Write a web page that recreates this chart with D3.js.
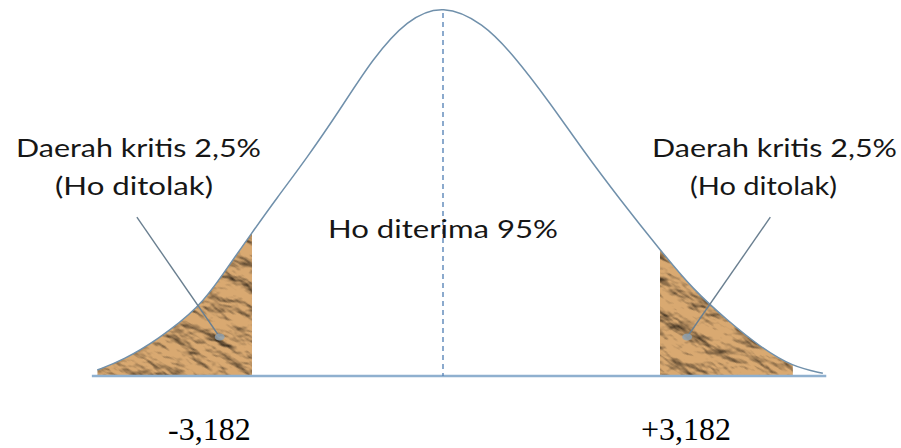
<!DOCTYPE html>
<html>
<head>
<meta charset="utf-8">
<script src="https://cdn.jsdelivr.net/npm/d3@7"></script>
<style>
  html, body { margin: 0; padding: 0; background: #ffffff; }
  svg { display: block; }
</style>
</head>
<body>
<svg id="svg_chart" width="901" height="448"></svg>
<script>
// curve: t value and density height
const curve_t = [-5.76, -5.33, -4.76, -4.05, -3.67, -3.182, -2.77, -2.27, -1.72, -1.17, -0.60, 0,
  0.59, 1.03, 1.57, 2.05, 2.60, 3.182, 3.67, 4.16, 4.65, 5.13, 5.57];
const curve_density = [0.0066, 0.0176, 0.0397, 0.076, 0.112, 0.158, 0.196, 0.240, 0.293, 0.350, 0.393, 0.410,
  0.389, 0.354, 0.301, 0.249, 0.194, 0.139, 0.095, 0.062, 0.032, 0.010, 0.003];

const critical_values = [-3.182, 3.182];
const critical_labels = ['-3,182', '+3,182'];
const tail_ends = [-5.76, 5.13];
const axis_extent = [-5.85, 5.62];

// leader lines: [t, density] start -> end
const leader_from = [[-5.10, 0.175], [4.80, 0.175]];
const leader_to = [[-3.72, 0.043], [3.58, 0.043]];

const region_title = 'Daerah kritis 2,5%';
const region_note = '(Ho ditolak)';
const accept_label = 'Ho diterima 95%';

const svg_chart = d3.select('svg#svg_chart');

// the sketch is not quite symmetric, so the x scale is piecewise
const x = d3.scaleLinear()
  .domain([critical_values[0], 0, critical_values[1]])
  .range([252, 443, 660]);
const y = d3.scaleLinear()
  .domain([0, 0.4])
  .range([376, 13]);

const points = curve_t.map((t, i) => ({ t, d: curve_density[i] }));

const line = d3.line()
  .x(p => x(p.t))
  .y(p => y(p.d))
  .curve(d3.curveBasis);

const area = d3.area()
  .x(p => x(p.t))
  .y0(y(0))
  .y1(p => y(p.d))
  .curve(d3.curveBasis);

const defs = svg_chart.append('defs');

// crumpled brown paper texture for the rejection regions
const paper = defs.append('filter')
  .attr('id', 'paper')
  .attr('x', 0).attr('y', 0).attr('width', 1).attr('height', 1)
  .attr('color-interpolation-filters', 'sRGB');
paper.append('feTurbulence')
  .attr('type', 'fractalNoise')
  .attr('baseFrequency', '0.028 0.06')
  .attr('numOctaves', 4)
  .attr('seed', 5)
  .attr('result', 'noise');
paper.append('feDiffuseLighting')
  .attr('in', 'noise')
  .attr('surfaceScale', 4.5)
  .attr('diffuseConstant', 1.2)
  .attr('lighting-color', '#ffffff')
  .attr('result', 'light')
  .append('feDistantLight')
  .attr('azimuth', 235)
  .attr('elevation', 52);
paper.append('feFlood')
  .attr('flood-color', '#d9a971')
  .attr('result', 'base');
paper.append('feBlend')
  .attr('in', 'light')
  .attr('in2', 'base')
  .attr('mode', 'multiply');

defs.append('clipPath')
  .attr('id', 'under_curve')
  .append('path')
  .attr('d', area(points));

const tail_ranges = [[tail_ends[0], critical_values[0]], [critical_values[1], tail_ends[1]]];

defs.append('clipPath')
  .attr('id', 'tail_ranges')
  .selectAll('rect')
  .data(tail_ranges)
  .join('rect')
  .attr('x', r => x(r[0]))
  .attr('width', r => x(r[1]) - x(r[0]))
  .attr('y', y(0.4) - 5)
  .attr('height', y(0) - y(0.4) + 5);

const tails = svg_chart.append('g')
  .attr('clip-path', 'url(#tail_ranges)')
  .append('g')
  .attr('clip-path', 'url(#under_curve)');

tail_ranges.forEach((r) => {
  const cx = (x(r[0]) + x(r[1])) / 2;
  const cy = y(0.08);
  tails.append('g')
    .attr('transform', `rotate(32, ${cx}, ${cy})`)
    .append('rect')
    .attr('x', cx - 160)
    .attr('y', cy - 160)
    .attr('width', 320)
    .attr('height', 320)
    .attr('filter', 'url(#paper)');
});

// baseline
svg_chart.append('line')
  .attr('x1', x(axis_extent[0]))
  .attr('x2', x(axis_extent[1]))
  .attr('y1', y(0))
  .attr('y2', y(0))
  .attr('stroke', '#8fb0cf')
  .attr('stroke-width', 2.5);

// centre dashed line
svg_chart.append('line')
  .attr('x1', x(0))
  .attr('x2', x(0))
  .attr('y1', y(0.4))
  .attr('y2', y(0))
  .attr('stroke', '#5b86b8')
  .attr('stroke-width', 1.4)
  .attr('stroke-dasharray', '5,4');

// bell curve
svg_chart.append('path')
  .attr('d', line(points))
  .attr('fill', 'none')
  .attr('stroke', '#7090ab')
  .attr('stroke-width', 1.5);

// leader lines from labels into the tails
svg_chart.append('g')
  .selectAll('line')
  .data(leader_from)
  .join('line')
  .attr('x1', d => x(d[0]))
  .attr('y1', d => y(d[1]))
  .attr('x2', (d, i) => x(leader_to[i][0]))
  .attr('y2', (d, i) => y(leader_to[i][1]))
  .attr('stroke', '#6a7f90')
  .attr('stroke-width', 1.4);

svg_chart.append('g')
  .selectAll('ellipse')
  .data(leader_to)
  .join('ellipse')
  .attr('cx', d => x(d[0]))
  .attr('cy', d => y(d[1]))
  .attr('rx', 5)
  .attr('ry', 3.5)
  .attr('fill', '#8ea3b3')
  .attr('opacity', 0.8);

// labels
const label_font = 'Lato, \'Open Sans\', sans-serif';
const labels = [
  { text: region_title, x: 16, y: 157, w: 245 },
  { text: region_note, x: 55, y: 195, w: 158 },
  { text: region_title, x: 652, y: 157, w: 245 },
  { text: region_note, x: 690, y: 195, w: 147 },
  { text: accept_label, x: 328, y: 238, w: 230 },
];

svg_chart.append('g')
  .selectAll('text')
  .data(labels)
  .join('text')
  .attr('x', d => d.x)
  .attr('y', d => d.y)
  .attr('textLength', d => d.w)
  .attr('lengthAdjust', 'spacingAndGlyphs')
  .style('font-family', label_font)
  .style('font-size', '25px')
  .style('fill', '#161616')
  .text(d => d.text);

const value_x = [168, 641];
svg_chart.append('g')
  .selectAll('text')
  .data(critical_labels)
  .join('text')
  .attr('x', (d, i) => value_x[i])
  .attr('y', 440)
  .style('font-family', '\'Liberation Serif\', \'Times New Roman\', serif')
  .style('font-size', '32px')
  .style('fill', '#000000')
  .text(d => d);
</script>
</body>
</html>
